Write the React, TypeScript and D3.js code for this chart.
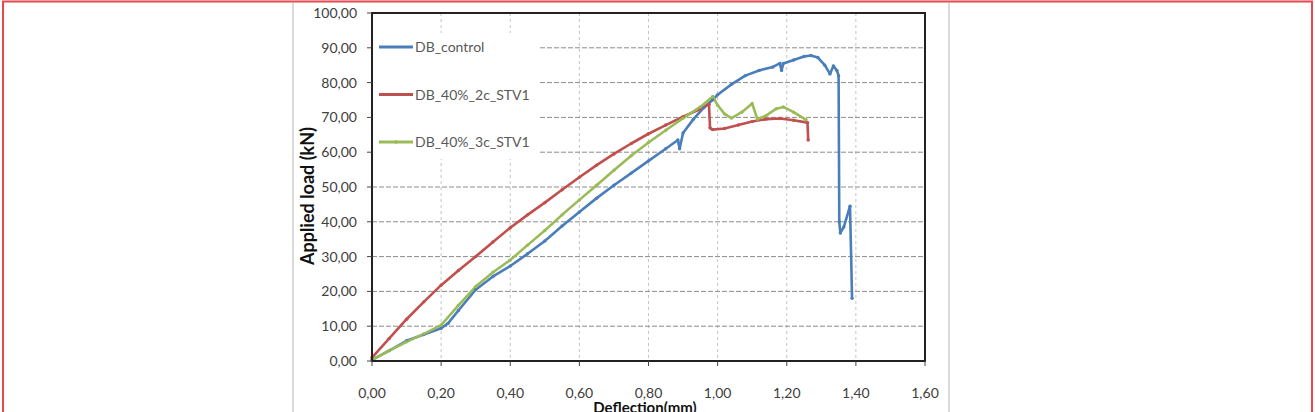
import React from "react";
import { scaleLinear, line } from "d3";

// deflection (mm) / applied load (kN)
const controlX = [0, 0.05, 0.1, 0.15, 0.2, 0.22, 0.25, 0.3, 0.35, 0.4, 0.45, 0.5, 0.55, 0.6, 0.65, 0.7, 0.75, 0.8, 0.85, 0.885, 0.89, 0.9, 0.93, 0.96, 0.985, 1.0, 1.04, 1.08, 1.12, 1.16, 1.18, 1.185, 1.19, 1.22, 1.25, 1.27, 1.29, 1.31, 1.325, 1.335, 1.345, 1.35, 1.352, 1.355, 1.365, 1.383, 1.389];
const controlY = [0.3, 3.0, 5.8, 7.6, 9.4, 10.8, 14.5, 20.5, 24.3, 27.3, 30.8, 34.5, 38.8, 42.8, 46.8, 50.5, 54.0, 57.5, 61.0, 63.5, 61.0, 65.5, 69.5, 72.8, 75.0, 76.5, 79.5, 82.0, 83.5, 84.5, 85.5, 83.5, 85.5, 86.5, 87.5, 87.8, 87.2, 85.0, 82.5, 84.8, 83.5, 82.0, 40.0, 36.8, 38.5, 44.5, 18.0];

const twoCX = [0, 0.05, 0.1, 0.15, 0.2, 0.25, 0.3, 0.35, 0.4, 0.45, 0.5, 0.55, 0.6, 0.65, 0.7, 0.75, 0.8, 0.85, 0.9, 0.95, 0.975, 0.978, 0.985, 1.02, 1.06, 1.1, 1.14, 1.18, 1.22, 1.26, 1.262];
const twoCY = [1.0, 6.5, 12.0, 17.0, 21.8, 26.0, 30.0, 34.2, 38.3, 42.0, 45.5, 49.2, 52.8, 56.3, 59.5, 62.5, 65.3, 67.8, 70.2, 72.4, 73.8, 67.0, 66.5, 66.8, 67.8, 68.8, 69.5, 69.7, 69.2, 68.5, 63.5];

const threeCX = [0, 0.05, 0.1, 0.15, 0.2, 0.25, 0.3, 0.35, 0.4, 0.45, 0.5, 0.55, 0.6, 0.65, 0.7, 0.75, 0.8, 0.85, 0.9, 0.95, 0.986, 1.0, 1.02, 1.04, 1.07, 1.1, 1.115, 1.14, 1.17, 1.19, 1.22, 1.256];
const threeCY = [0.3, 3.0, 5.5, 7.8, 10.3, 16.0, 21.4, 25.5, 29.0, 33.3, 37.5, 42.0, 46.3, 50.5, 54.8, 59.0, 62.8, 66.3, 69.8, 73.0, 76.0, 73.5, 71.0, 69.8, 71.5, 74.0, 69.5, 70.5, 72.5, 73.0, 71.5, 69.3];

const seriesNames = ["DB_control", "DB_40%_2c_STV1", "DB_40%_3c_STV1"];
const seriesColors = ["#4a7ebb", "#c0504d", "#9bbb59"];

const xTicks = [0, 0.2, 0.4, 0.6, 0.8, 1.0, 1.2, 1.4, 1.6];
const yTicks = [0, 10, 20, 30, 40, 50, 60, 70, 80, 90, 100];

const fmt = (v: number) => v.toFixed(2).replace(".", ",");

export default function App() {
	const margin = { left: 372, top: 13, right: 925, bottom: 361 };
	const x = scaleLinear().domain([0, 1.6]).range([margin.left, margin.right]);
	const y = scaleLinear().domain([0, 100]).range([margin.bottom, margin.top]);

	const series = [
		{ xs: controlX, ys: controlY },
		{ xs: twoCX, ys: twoCY },
		{ xs: threeCX, ys: threeCY },
	];

	const path = line<[number, number]>()
		.x((d) => x(d[0]))
		.y((d) => y(d[1]));

	const font = "Lato, 'Liberation Sans', Arial, sans-serif";

	return (
		<div style={{ position: "absolute", left: 0, top: 0 }}>
			<svg width={1315} height={412} style={{ display: "block" }}>
				<rect width={1315} height={412} fill="#fff" />

				{/* page frame and image edges */}
				<path d="M3,412 V1.5 H1312 V412" fill="none" stroke="#e8484d" strokeWidth={2} />
				<line x1={293} x2={293} y1={3} y2={412} stroke="#dadada" strokeWidth={2} />
				<line x1={949} x2={949} y1={3} y2={412} stroke="#dadada" strokeWidth={2} />

				{/* grid */}
				{xTicks.slice(1, -1).map((t) => (
					<line key={"vx" + t} x1={x(t)} x2={x(t)} y1={margin.top} y2={margin.bottom}
						stroke="#c4c4c4" strokeDasharray="3,3" />
				))}
				{yTicks.slice(1, -1).map((t) => (
					<line key={"hy" + t} x1={margin.left} x2={margin.right} y1={y(t)} y2={y(t)}
						stroke="#8c8c8c" strokeDasharray="5,2" />
				))}

				{/* legend box hides the grid behind it */}
				<rect x={margin.left + 1} y={33} width={167} height={126} fill="#fff" />
				{seriesNames.map((name, i) => {
					const ly = 47 + i * 47.5;
					return (
						<g key={name}>
							<line x1={379} x2={413} y1={ly} y2={ly} stroke={seriesColors[i]} strokeWidth={3} />
							{i === 2 && <circle cx={396} cy={ly} r={1.8} fill={seriesColors[i]} />}
							<text x={415} y={ly + 5} fontFamily={font} fontSize={14} fill="#595959">
								{name}
							</text>
						</g>
					);
				})}

				{/* curves */}
				{series.map((s, i) => (
					<path key={i} d={path(s.xs.map((v, j) => [v, s.ys[j]] as [number, number])) || ""}
						fill="none" stroke={seriesColors[i]} strokeWidth={2.6} strokeLinejoin="round" />
				))}
				{series.map((s, i) =>
					s.xs.map((v, j) => (
						<circle key={i + "-" + j} cx={x(v)} cy={y(s.ys[j])} r={1.7} fill={seriesColors[i]} />
					)),
				)}

				{/* plot frame */}
				<rect x={margin.left} y={margin.top} width={margin.right - margin.left}
					height={margin.bottom - margin.top} fill="none" stroke="#222" strokeWidth={2} />

				{/* y axis */}
				{yTicks.map((t) => (
					<g key={"yt" + t} transform={`translate(0, ${y(t)})`}>
						<line x1={margin.left - 5} x2={margin.left} stroke="#444" />
						<text x={357} dy="0.35em" textAnchor="end" fontFamily={font} fontSize={14} fill="#404040">
							{fmt(t)}
						</text>
					</g>
				))}

				{/* x axis */}
				{xTicks.map((t) => (
					<g key={"xt" + t} transform={`translate(${x(t)}, 0)`}>
						<line y1={margin.bottom} y2={margin.bottom + 5} stroke="#444" />
						<text y={398} textAnchor="middle" fontFamily={font} fontSize={14} fill="#404040">
							{fmt(t)}
						</text>
					</g>
				))}

				<text x={645} y={413} textAnchor="middle" fontFamily={font} fontSize={15} fontWeight="bold" fill="#111">
					Deflection(mm)
				</text>
				<text transform="translate(314, 196) rotate(-90)" textAnchor="middle" fontFamily={font}
					fontSize={18} fontWeight="bold" fill="#111">
					Applied load (kN)
				</text>
			</svg>
		</div>
	);
}
